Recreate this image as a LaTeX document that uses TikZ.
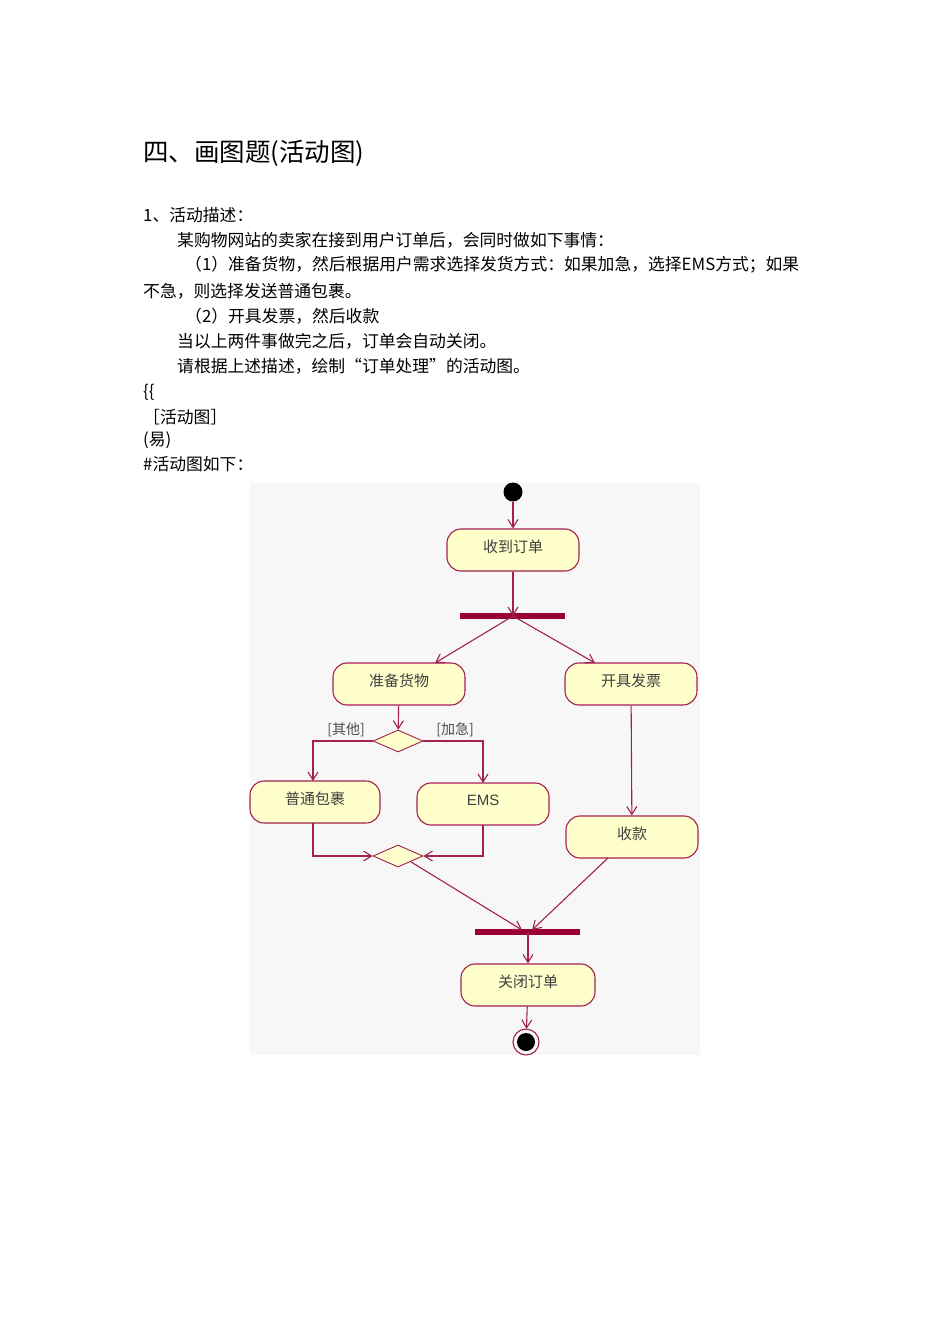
\documentclass[tikz,border=0pt]{standalone}
\usepackage{fontspec}
\setmainfont{Noto Sans CJK SC}
\newfontfamily\lat{Liberation Sans}
\usetikzlibrary{shapes.geometric,arrows.meta}
\definecolor{edge}{HTML}{A3204F}
\definecolor{bar}{HTML}{990033}
\definecolor{fillY}{HTML}{FFFFCC}
\tikzset{
 act/.style={draw=edge,fill=fillY,rounded corners=14pt,minimum width=132pt,minimum height=42pt,line width=1.1pt,text=black!75,font=\fontsize{15}{15}\selectfont,inner sep=0pt,text depth=7pt},
 dec/.style={diamond,draw=edge,fill=fillY,minimum width=50pt,minimum height=22pt,inner sep=0pt,aspect=2.3,line width=0.9pt},
 flow/.style={draw=edge,line width=1.1pt,-{Straight Barb[length=8pt,width=10pt]}},
 txt/.style={anchor=west,inner sep=0pt,font=\fontsize{16.8}{16.8}\selectfont},
 grd/.style={font=\fontsize{14}{14}\selectfont,text=black!70,inner sep=0pt}
}
\begin{document}
\begin{tikzpicture}[x=1pt,y=-1pt]
\useasboundingbox (0,0) rectangle (950,1344);
\fill[black!3] (250,483) rectangle (700,1055);
\node[anchor=west,inner sep=0pt,font=\fontsize{25.5}{25.5}\selectfont] (title) at (143,153) {四、画图题(活动图)};
\node[txt] (t1) at (143,215) {1、活动描述：};
\node[txt] (t2) at (177,240) {某购物网站的卖家在接到用户订单后，会同时做如下事情：};
\node[txt] (t3) at (185,265) {（1）准备货物，然后根据用户需求选择发货方式：如果加急，选择EMS方式；如果};
\node[txt] (t4) at (143,291) {不急，则选择发送普通包裹。};
\node[txt] (t5) at (185,316) {（2）开具发票，然后收款};
\node[txt] (t6) at (177,341) {当以上两件事做完之后，订单会自动关闭。};
\node[txt] (t7) at (177,366) {请根据上述描述，绘制“订单处理”的活动图。};
\node[txt] (t8) at (143,392) {\{\{};
\node[txt] (t9) at (143,417) {［活动图］};
\node[txt] (t10) at (143,440) {(易)};
\node[txt] (t11) at (143,464) {\#活动图如下：};

\fill (513,492) circle (9.5pt);
\node[circle,minimum size=19pt,inner sep=0pt] (st) at (513,492) {};
\node[act] (a1) at (513,550) {收到订单};
\fill[bar] (460,613) rectangle (565,619);
\coordinate (fork) at (513,616);
\node[act] (a2) at (399,684) {准备货物};
\node[act] (a3) at (631,684) {开具发票};
\node[dec] (d1) at (398,741) {};
\node[grd] (g1) at (346,730) {[其他]};
\node[grd] (g2) at (455,730) {[加急]};
\node[act,minimum width=130pt] (a4) at (315,802) {普通包裹};
\node[act,font=\lat\fontsize{15}{15}\selectfont] (a5) at (483,804) {EMS};
\node[act] (a6) at (632,837) {收款};
\node[dec] (d2) at (398,856) {};
\fill[bar] (475,929) rectangle (580,935);
\coordinate (join) at (528,932);
\node[act,minimum width=134pt] (a7) at (528,985) {关闭订单};
\fill (526,1042) circle (9pt);
\draw[edge,line width=1.1pt] (526,1042) circle (13pt);
\node[circle,minimum size=26pt,inner sep=0pt] (en) at (526,1042) {};

\draw[flow] (st) -- (a1);
\draw[flow] (a1) -- (fork);
\draw[flow] (fork) -- (435,663);
\draw[flow] (fork) -- (595,663);
\draw[flow] (a2) -- (d1);
\draw[flow] (d1.west) -| (313,781);
\draw[flow] (d1.east) -| (483,783);
\draw[flow] (a3) -- (a6);
\draw[flow] (313,823) |- (d2.west);
\draw[flow] (483,825) |- (d2.east);
\draw[flow] (d2.south east) -- (522,930);
\draw[flow] (608,858) -- (532,930);
\draw[flow] (join) -- (a7);
\draw[flow] (a7) -- (en);
\end{tikzpicture}
\end{document}
